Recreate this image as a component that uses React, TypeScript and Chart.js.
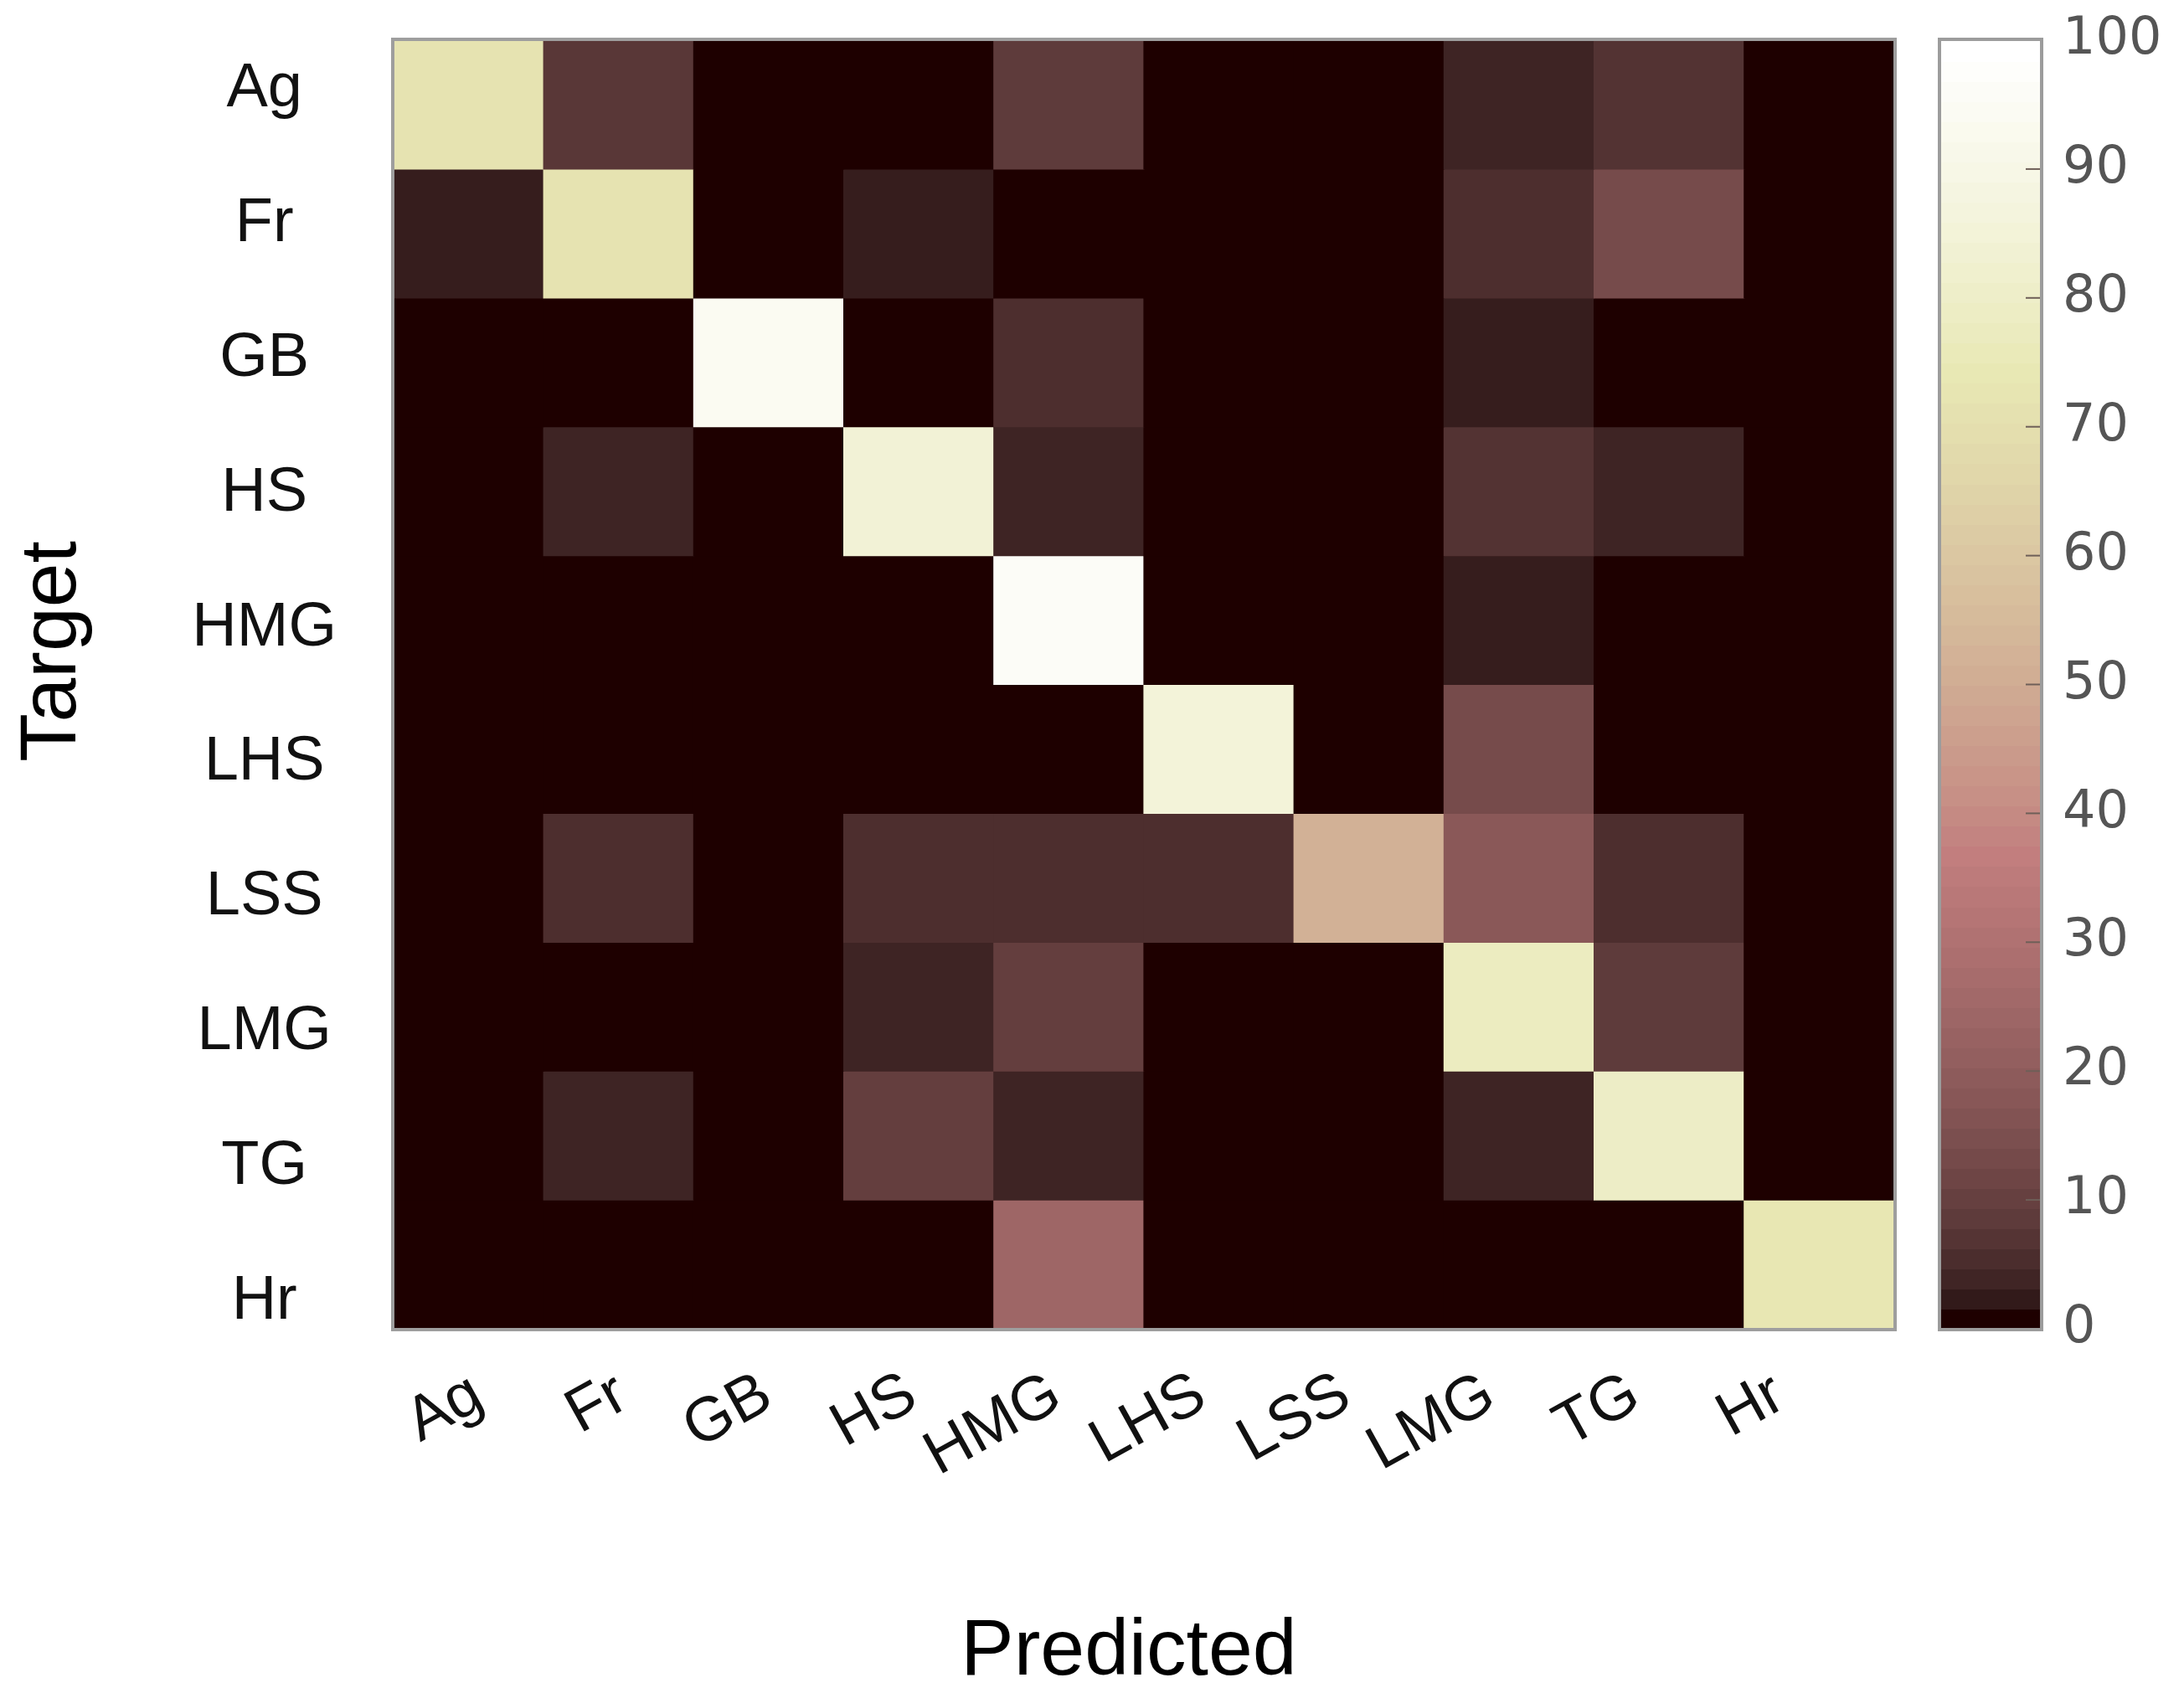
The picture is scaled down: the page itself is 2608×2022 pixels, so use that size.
import React, { useEffect, useRef } from 'react';
import { Chart, registerables } from 'chart.js';

Chart.register(...registerables);

const W = 2608;
const H = 2022;

// Categories
const predicted = ['Ag', 'Fr', 'GB', 'HS', 'HMG', 'LHS', 'LSS', 'LMG', 'TG', 'Hr'];
const target = ['Ag', 'Fr', 'GB', 'HS', 'HMG', 'LHS', 'LSS', 'LMG', 'TG', 'Hr'];

// Confusion matrix rows (Target), values per Predicted class (%)
const rowAg = [72, 7, 0, 0, 8, 0, 0, 3, 6, 0];
const rowFr = [2, 72, 0, 2, 0, 0, 0, 5, 13, 0];
const rowGB = [0, 0, 95, 0, 5, 0, 0, 2, 0, 0];
const rowHS = [0, 3, 0, 85, 3, 0, 0, 6, 3, 0];
const rowHMG = [0, 0, 0, 0, 97, 0, 0, 2, 0, 0];
const rowLHS = [0, 0, 0, 0, 0, 86, 0, 13, 0, 0];
const rowLSS = [0, 5, 0, 5, 5, 5, 52, 18, 5, 0];
const rowLMG = [0, 0, 0, 3, 9, 0, 0, 78, 8, 0];
const rowTG = [0, 3, 0, 9, 3, 0, 0, 3, 80, 0];
const rowHr = [0, 0, 0, 0, 24, 0, 0, 0, 0, 74];
const matrix = [rowAg, rowFr, rowGB, rowHS, rowHMG, rowLHS, rowLSS, rowLMG, rowTG, rowHr];

// Colorbar tick labels
const colorbarTicks = [0, 10, 20, 30, 40, 50, 60, 70, 80, 90, 100];
const colorbarMarks = [10, 20, 30, 40, 50, 60, 70, 80, 90];

const xTitle = 'Predicted';
const yTitle = 'Target';

// MATLAB "pink" colormap, 64 entries
const CMAP_N = 64;
function pinkEntry(i: number): [number, number, number] {
  const gray = (i - 1) / (CMAP_N - 1);
  const n = Math.floor((3 / 8) * CMAP_N);
  const hr = Math.min(1, i / n);
  const hg = Math.max(0, Math.min(1, (i - n) / n));
  const hb = Math.max(0, Math.min(1, (i - 2 * n) / (CMAP_N - 2 * n)));
  return [
    Math.sqrt((2 * gray + hr) / 3),
    Math.sqrt((2 * gray + hg) / 3),
    Math.sqrt((2 * gray + hb) / 3),
  ];
}
function toRgb(c: [number, number, number]): string {
  return `rgb(${Math.round(c[0] * 255)},${Math.round(c[1] * 255)},${Math.round(c[2] * 255)})`;
}
function pink(v: number): string {
  const pos = Math.max(0, Math.min(1, v / 100)) * (CMAP_N - 1) + 1;
  const lo = Math.floor(pos);
  const hi = Math.min(CMAP_N, lo + 1);
  const f = pos - lo;
  const a = pinkEntry(lo);
  const b = pinkEntry(hi);
  return toRgb([a[0] + (b[0] - a[0]) * f, a[1] + (b[1] - a[1]) * f, a[2] + (b[2] - a[2]) * f]);
}

const FONT = "'Liberation Sans', Arial, sans-serif";

const decorPlugin = {
  id: 'decor',
  afterDraw(chart: any) {
    const { ctx, chartArea: a } = chart;
    const cb = chart.scales.cb;
    ctx.save();
    // heatmap frame
    ctx.strokeStyle = '#9e9e9e';
    ctx.lineWidth = 4;
    ctx.strokeRect(a.left - 1, a.top - 1, a.right - a.left + 2, a.bottom - a.top + 2);

    // colorbar
    const x0 = a.right + 55;
    const x1 = a.right + 175;
    for (let i = 0; i < CMAP_N; i++) {
      const v0 = (i * 100) / CMAP_N;
      const v1 = ((i + 1) * 100) / CMAP_N;
      const yTop = cb.getPixelForValue(v1);
      const yBot = cb.getPixelForValue(v0);
      ctx.fillStyle = toRgb(pinkEntry(i + 1));
      ctx.fillRect(x0, Math.floor(yTop), x1 - x0, Math.ceil(yBot) - Math.floor(yTop) + 1);
    }
    ctx.strokeStyle = '#6e5f58';
    ctx.lineWidth = 2;
    colorbarMarks.forEach((v) => {
      const y = cb.getPixelForValue(v);
      ctx.beginPath();
      ctx.moveTo(x1 - 18, y);
      ctx.lineTo(x1, y);
      ctx.stroke();
    });
    ctx.strokeStyle = '#9c9c9c';
    ctx.lineWidth = 4;
    ctx.strokeRect(x0 - 1, cb.top - 1, x1 - x0 + 2, cb.bottom - cb.top + 2);

    // axis titles
    ctx.fillStyle = '#000';
    ctx.font = `95px ${FONT}`;
    ctx.textAlign = 'center';
    ctx.textBaseline = 'alphabetic';
    ctx.fillText(xTitle, 1348, 2000);
    ctx.translate(90, 778);
    ctx.rotate(-Math.PI / 2);
    ctx.fillText(yTitle, 0, 0);
    ctx.restore();
  },
};

function zeroPad(s: any) {
  s.paddingTop = 0;
  s.paddingBottom = 0;
  s.paddingLeft = 0;
  s.paddingRight = 0;
}

export default function App() {
  const ref = useRef<HTMLCanvasElement | null>(null);

  useEffect(() => {
    if (!ref.current) return;
    Chart.defaults.font.family = FONT;
    const datasets = target.map((t, r) => ({
      label: t,
      data: predicted.map(() => [r, r + 1]),
      backgroundColor: matrix[r].map((v) => pink(v)),
      borderWidth: 0,
      inflateAmount: 0.6,
      grouped: false,
      barPercentage: 1,
      categoryPercentage: 1,
      xAxisID: 'x',
      yAxisID: 'y',
    }));

    const chart = new Chart(ref.current, {
      type: 'bar',
      data: { labels: predicted, datasets: datasets as any },
      plugins: [decorPlugin],
      options: {
        responsive: false,
        animation: false,
        devicePixelRatio: 1,
        layout: { padding: { top: 48, left: 0, right: 0, bottom: 0 } },
        plugins: { legend: { display: false }, tooltip: { enabled: false } },
        scales: {
          x: { type: 'category', labels: predicted, display: false, offset: true },
          y: { type: 'linear', min: 0, max: 10, reverse: true, display: false },
          xl: {
            type: 'linear',
            position: 'bottom',
            offset: false,
            min: -0.585,
            max: 9.791,
            grid: { display: false, drawTicks: false, offset: false },
            border: { display: false },
            afterBuildTicks: (s: any) => {
              s.ticks = predicted.map((_, i) => ({ value: i }));
            },
            afterFit: (s: any) => {
              s.height = H - 1587;
              zeroPad(s);
            },
            ticks: {
              autoSkip: false,
              minRotation: 29,
              maxRotation: 29,
              padding: 35,
              color: '#111',
              font: { size: 74, family: FONT },
              callback: (v: any) => predicted[Math.round(Number(v))],
            },
          },
          yl: {
            type: 'linear',
            position: 'left',
            offset: false,
            min: -0.367,
            max: 9.204,
            reverse: true,
            grid: { display: false, drawTicks: false },
            border: { display: false },
            afterBuildTicks: (s: any) => {
              s.ticks = target.map((_, i) => ({ value: i }));
            },
            afterFit: (s: any) => {
              s.width = 470;
              zeroPad(s);
            },
            ticks: {
              autoSkip: false,
              crossAlign: 'center',
              padding: 68,
              color: '#111',
              font: { size: 74, family: FONT },
              callback: (v: any) => target[Math.round(Number(v))],
            },
          },
          cb: {
            type: 'linear',
            position: 'right',
            offset: false,
            min: 0,
            max: 100,
            grid: { display: false, drawTicks: false },
            border: { display: false },
            afterBuildTicks: (s: any) => {
              s.ticks = colorbarTicks.map((v) => ({ value: v }));
            },
            afterFit: (s: any) => {
              s.width = W - 2262;
              zeroPad(s);
            },
            ticks: {
              autoSkip: false,
              padding: 201,
              color: '#555',
              font: { size: 62, family: "'DejaVu Sans', sans-serif" },
            },
          },
        },
      } as any,
    });
    return () => chart.destroy();
  }, []);

  return (
    <div style={{ position: 'absolute', left: 0, top: 0, width: W, height: H, background: '#fff' }}>
      <canvas ref={ref} width={W} height={H} style={{ width: W, height: H, display: 'block' }} />
    </div>
  );
}
